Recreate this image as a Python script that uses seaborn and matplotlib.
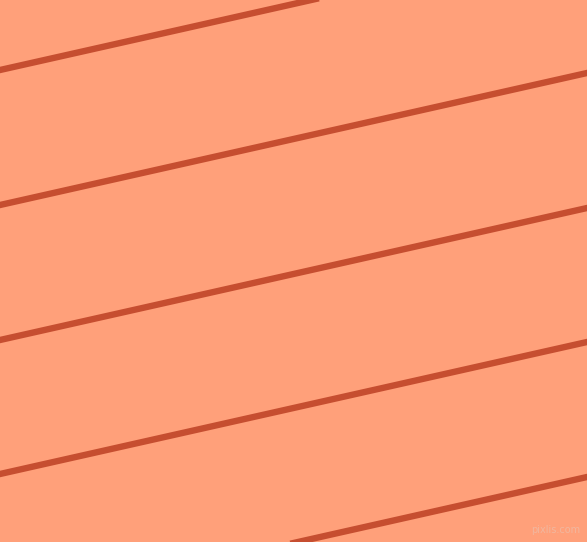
import matplotlib
matplotlib.use("Agg")
import matplotlib.pyplot as plt
import seaborn as sns
import pandas as pd

stripe_ids = [1, 2, 3, 4, 5]
y_left = [70, 205, 340, 474, 609]
y_right = [-62, 73, 208, 342, 477]
x_left = 0
x_right = 587

bg_color = "#FFA07A"
line_color = "#C64E30"

rows = []
for sid, yl, yr in zip(stripe_ids, y_left, y_right):
    rows.append({"stripe": sid, "x": x_left, "y": yl})
    rows.append({"stripe": sid, "x": x_right, "y": yr})
df = pd.DataFrame(rows)

fig = plt.figure(figsize=(5.87, 5.42), dpi=100)
fig.patch.set_facecolor(bg_color)
ax = fig.add_axes([0, 0, 1, 1])
ax.set_facecolor(bg_color)

sns.lineplot(data=df, x="x", y="y", units="stripe", estimator=None,
             color=line_color, linewidth=4.6, ax=ax, legend=False)

ax.set_xlim(0, 587)
ax.set_ylim(542, 0)
ax.set_axis_off()

ax.text(580, 535, "pixlis.com", ha="right", va="bottom", fontsize=7,
        color="#F0B9A2", alpha=0.9)

fig.savefig("out.png", dpi=100, facecolor=bg_color)
plt.close(fig)
